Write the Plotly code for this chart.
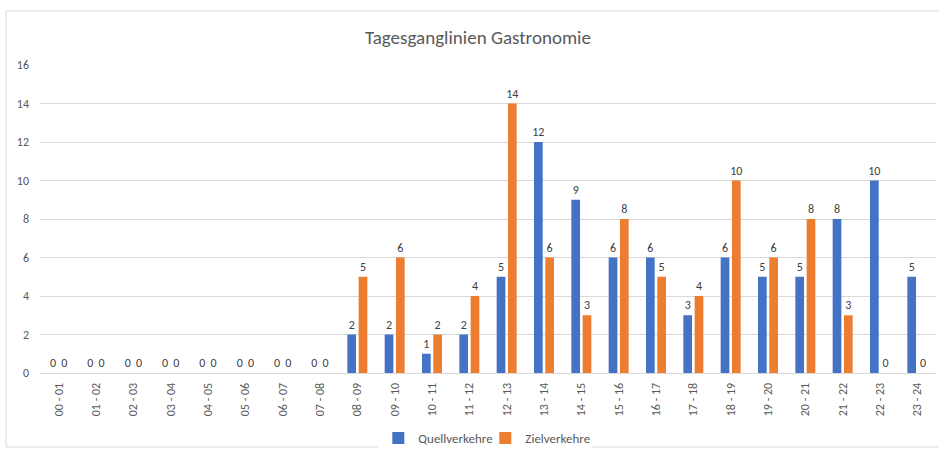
import plotly.graph_objects as go

categories = ["00 - 01", "01 - 02", "02 - 03", "03 - 04", "04 - 05", "05 - 06",
              "06 - 07", "07 - 08", "08 - 09", "09 - 10", "10 - 11", "11 - 12",
              "12 - 13", "13 - 14", "14 - 15", "15 - 16", "16 - 17", "17 - 18",
              "18 - 19", "19 - 20", "20 - 21", "21 - 22", "22 - 23", "23 - 24"]
quellverkehre = [0, 0, 0, 0, 0, 0, 0, 0, 2, 2, 1, 2, 5, 12, 9, 6, 6, 3, 6, 5, 5, 8, 10, 5]
zielverkehre = [0, 0, 0, 0, 0, 0, 0, 0, 5, 6, 2, 4, 14, 6, 3, 8, 5, 4, 10, 6, 8, 3, 0, 0]
y_ticks = [0, 2, 4, 6, 8, 10, 12, 14, 16]

FONT = "Calibri, Carlito, Lato, sans-serif"

fig = go.Figure()
fig.add_trace(go.Bar(
    x=categories, y=quellverkehre, name="Quellverkehre",
    marker=dict(color="#4472C4", line=dict(width=0)),
    text=quellverkehre, textposition="outside", cliponaxis=False, constraintext="none",
    textfont=dict(color="#404040", size=12, family=FONT),
))
fig.add_trace(go.Bar(
    x=categories, y=zielverkehre, name="Zielverkehre",
    marker=dict(color="#ED7D31", line=dict(width=0)),
    text=zielverkehre, textposition="outside", cliponaxis=False, constraintext="none",
    textfont=dict(color="#404040", size=12, family=FONT),
))

fig.update_layout(
    width=939, height=455,
    margin=dict(l=40, r=3, t=65, b=82, autoexpand=False),
    paper_bgcolor="white", plot_bgcolor="white",
    font=dict(family=FONT, color="#595959", size=12),
    title=dict(text="Tagesganglinien Gastronomie", x=0.509, xanchor="center",
               y=1 - 37 / 455, yanchor="middle",
               font=dict(size=19, color="#595959", family=FONT)),
    barmode="group", bargap=0.395, bargroupgap=0.23,
    showlegend=True,
    legend=dict(orientation="h", x=0.497, xanchor="center", y=-0.211, yanchor="middle",
                font=dict(size=13, color="#595959", family=FONT),
                itemwidth=30, traceorder="normal",
                entrywidth=62, entrywidthmode="pixels"),
    shapes=[dict(type="rect", xref="paper", yref="paper",
                 x0=-0.0379, x1=1.02, y0=-0.2403, y1=1.1753,
                 line=dict(color="#D9D9D9", width=1), fillcolor="rgba(0,0,0,0)",
                 layer="below")],
)
fig.update_xaxes(
    type="category", tickangle=-90, showgrid=False,
    showline=True, linecolor="#D9D9D9", linewidth=1,
    ticks="", tickfont=dict(size=12, color="#595959", family=FONT),
    ticklabelstandoff=4,
)
fig.update_yaxes(
    range=[0, 16], tickvals=y_ticks, showgrid=True, gridcolor="#D9D9D9", gridwidth=1,
    zeroline=False, showline=False, ticks="",
    tickfont=dict(size=12, color="#595959", family=FONT),
    ticklabelstandoff=10,
)

fig.write_html("out.html", config={"displayModeBar": False},
               post_script="document.body.style.margin='0px';")
